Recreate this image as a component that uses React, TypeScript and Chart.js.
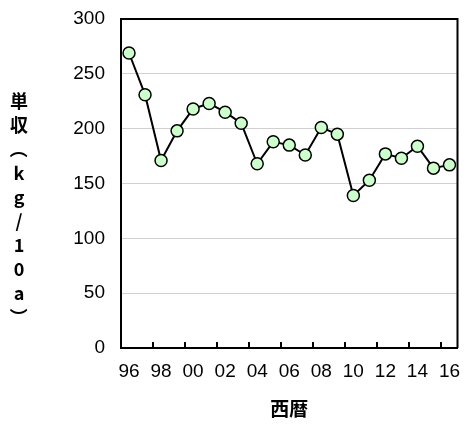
import React, { useEffect, useRef } from "react";
import { Chart, registerables } from "chart.js";

Chart.register(...registerables);

const years = ["96","97","98","99","00","01","02","03","04","05","06","07","08","09","10","11","12","13","14","15","16"];
const yieldValues = [269, 231, 171, 198, 218, 223, 215, 205, 168, 188, 185, 176, 201, 195, 139, 153, 177, 173, 184, 164, 167];
const yTitleChars = ["単", "収", "（", "k", "g", "/", "1", "0", "a", "）"];
const xTitle = "西暦";

const tickFont = "'Liberation Sans', Arial, sans-serif";
const cjkFont = "'Noto Sans CJK JP', sans-serif";

export default function App() {
  const ref = useRef<HTMLCanvasElement>(null);
  useEffect(() => {
    const canvas = ref.current;
    if (!canvas) return;
    const overlay = {
      id: "overlay",
      afterDraw(chart: any) {
        const x = chart.scales.x;
        const a = chart.chartArea;
        const ctx = chart.ctx;
        ctx.save();
        ctx.strokeStyle = "#000";
        ctx.lineWidth = 2;
        for (let i = 2; i < years.length; i += 2) {
          const px = Math.round((x.getPixelForTick(i) + x.getPixelForTick(i - 1)) / 2);
          ctx.beginPath();
          ctx.moveTo(px, a.bottom);
          ctx.lineTo(px, a.bottom - 6);
          ctx.stroke();
        }
        ctx.beginPath();
        ctx.moveTo(a.left, a.top);
        ctx.lineTo(a.right, a.top);
        ctx.lineTo(a.right, a.bottom);
        ctx.stroke();
        ctx.fillStyle = "#000";
        ctx.font = "bold 18px " + cjkFont;
        ctx.textAlign = "center";
        ctx.textBaseline = "middle";
        const startY = 101;
        const step = 24;
        yTitleChars.forEach((c, i) => {
          const cy = startY + i * step;
          if (c === "（" || c === "）") {
            ctx.save();
            ctx.translate(19, cy);
            ctx.rotate(Math.PI / 2);
            ctx.fillText(c, 0, 0);
            ctx.restore();
          } else {
            ctx.fillText(c, 19, cy);
          }
        });
        ctx.restore();
      },
    };
    const chart = new Chart(canvas, {
      type: "line",
      data: {
        labels: years,
        datasets: [
          {
            data: yieldValues,
            borderColor: "#000",
            borderWidth: 2,
            backgroundColor: "#ccffcc",
            pointBackgroundColor: "#ccffcc",
            pointBorderColor: "#000",
            pointBorderWidth: 1.5,
            pointRadius: 6,
            tension: 0,
          },
        ],
      },
      options: {
        animation: false,
        responsive: false,
        maintainAspectRatio: false,
        events: [],
        layout: { padding: { top: 19, right: 5, left: 0, bottom: 0 } },
        plugins: { legend: { display: false }, tooltip: { enabled: false } },
        scales: {
          x: {
            type: "category",
            offset: true,
            grid: { display: true, drawOnChartArea: false, drawTicks: true, tickLength: 12, tickColor: "rgba(0,0,0,0)", color: "rgba(0,0,0,0)" },
            border: { display: true, color: "#000", width: 2 },
            ticks: {
              autoSkip: false,
              maxRotation: 0,
              padding: 0,
              color: "#000",
              font: { family: tickFont, size: 19 },
              callback: (_v: any, i: number) => (i % 2 === 0 ? years[i] : ""),
            },
            title: {
              display: true,
              text: xTitle,
              color: "#000",
              font: { family: cjkFont, size: 19, weight: "bold" },
              padding: { top: 0, bottom: 4 },
            },
            afterFit: (s: any) => { s.height = 76; s.paddingLeft = 0; s.paddingRight = 0; },
          },
          y: {
            min: 0,
            max: 300,
            ticks: {
              stepSize: 50,
              padding: 16,
              color: "#000",
              font: { family: tickFont, size: 19 },
            },
            grid: {
              drawTicks: false,
              color: (c: any) => (c.tick && (c.tick.value === 0 || c.tick.value === 300) ? "rgba(0,0,0,0)" : "#d0d0d0"),
              lineWidth: 1,
            },
            border: { display: true, color: "#000", width: 2 },
            afterFit: (s: any) => { s.width = 121; s.paddingTop = 0; s.paddingBottom = 0; },
          },
        },
      },
      plugins: [overlay],
    } as any);
    return () => chart.destroy();
  }, []);
  return (
    <div style={{ position: "fixed", left: 0, top: 0, width: 465, height: 424, background: "#fff" }}>
      <canvas ref={ref} width={465} height={424} style={{ display: "block" }} />
    </div>
  );
}
